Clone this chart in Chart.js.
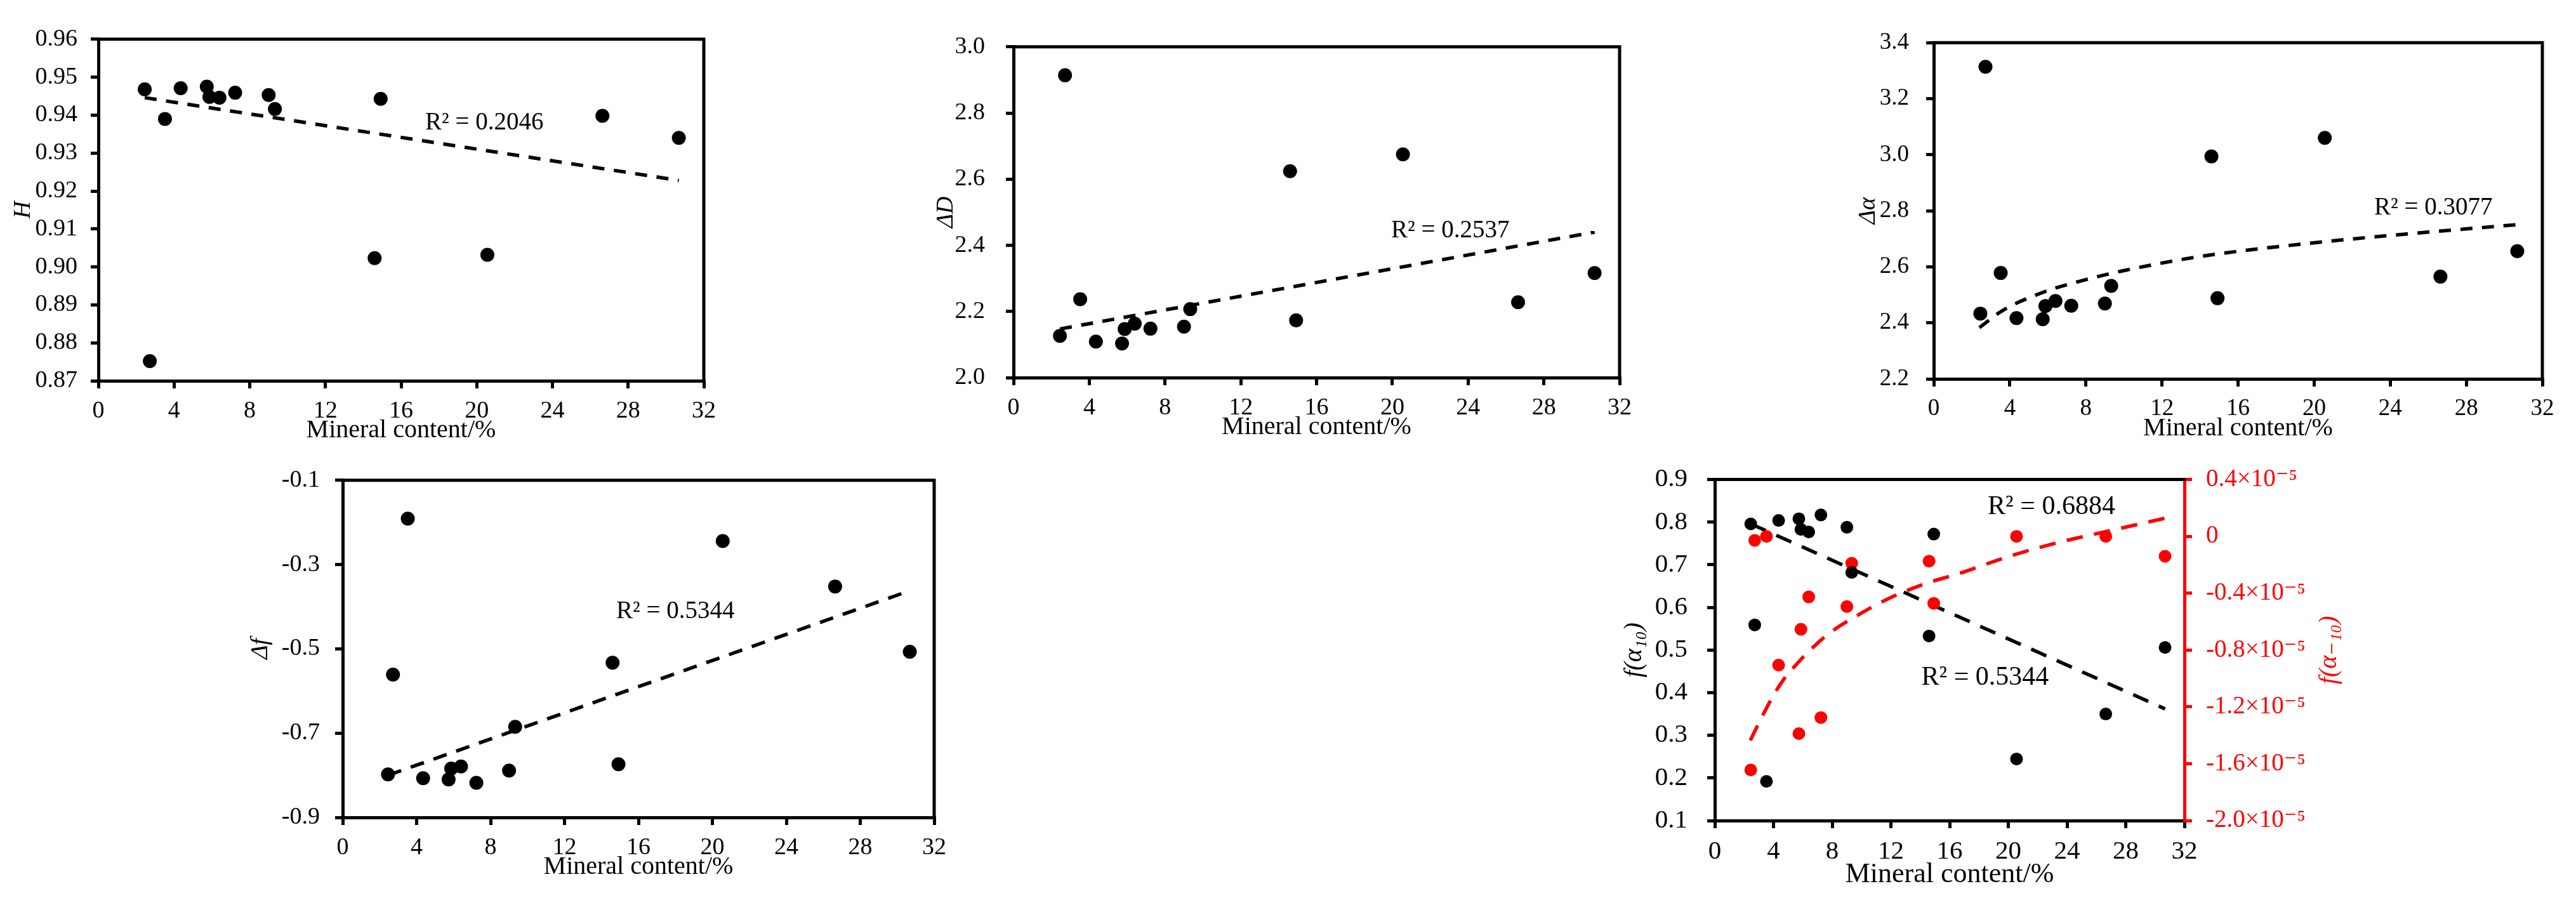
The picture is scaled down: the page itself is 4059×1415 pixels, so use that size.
<!DOCTYPE html>
<html>
<head>
<meta charset="utf-8">
<script src="https://cdn.jsdelivr.net/npm/chart.js@4.4.1/dist/chart.umd.min.js"></script>
<style>
  html, body { margin: 0; padding: 0; background: #fff; }
  body { width: 4059px; height: 1415px; position: relative; overflow: hidden; }
  .box { position: absolute; }
</style>
</head>
<body>
<div class="box" id="b1"><canvas id="c1"></canvas></div>
<div class="box" id="b2"><canvas id="c2"></canvas></div>
<div class="box" id="b3"><canvas id="c3"></canvas></div>
<div class="box" id="b4"><canvas id="c4"></canvas></div>
<div class="box" id="b5"><canvas id="c5"></canvas></div>
<script>
// mineral content (%) of the samples, shared by every panel
const mineral = [2.45, 2.72, 3.52, 4.35, 5.73, 5.87, 6.40, 7.23, 9.00, 9.33, 14.60, 14.92, 20.56, 26.64, 30.68];

// H
const hVals = [0.9468, 0.8752, 0.9390, 0.9471, 0.9475, 0.9448, 0.9446, 0.9459, 0.9453, 0.9416, 0.9023, 0.9443, 0.9032, 0.9398, 0.9340];
const hTrendX = [2.45, 30.68];
const hTrendY = [0.9446, 0.9228];

// ΔD
const dDVals = [2.126, 2.914, 2.237, 2.109, 2.103, 2.147, 2.163, 2.148, 2.154, 2.207, 2.624, 2.173, 2.675, 2.228, 2.316];
const dDTrendX = [2.45, 30.68];
const dDTrendY = [2.147, 2.440];

// Δα
const dAlphaVals = [2.433, 3.314, 2.578, 2.417, 2.413, 2.460, 2.478, 2.461, 2.469, 2.532, 2.994, 2.488, 3.060, 2.565, 2.656];
const dAlphaTrendX = [2.40, 3.62, 5.71, 7.93, 9.90, 13.84, 19.75, 24.68, 30.60];
const dAlphaTrendY = [2.383, 2.444, 2.508, 2.553, 2.585, 2.635, 2.684, 2.716, 2.750];

// Δf
const dfVals = [-0.798, -0.561, -0.191, -0.807, -0.810, -0.784, -0.779, -0.818, -0.789, -0.685, -0.533, -0.774, -0.244, -0.352, -0.507];
const dfTrendX = [2.45, 30.68];
const dfTrendY = [-0.800, -0.362];

// f(α10) (left axis) and f(α-10) (right axis, in units of 10^-5)
const fa10Vals = [0.796, 0.559, 0.192, 0.804, 0.808, 0.783, 0.777, 0.817, 0.788, 0.682, 0.533, 0.772, 0.2445, 0.350, 0.506];
const fa10TrendX = [2.45, 30.68];
const fa10TrendY = [0.796, 0.362];
const faNegVals = [-1.644, -0.028, 0.0, -0.906, -1.388, -0.654, -0.426, -1.275, -0.494, -0.189, -0.174, -0.471, 0.0, 0.0, -0.140];
const faNegTrendX = [2.42, 3.16, 3.99, 4.68, 5.64, 6.74, 7.84, 9.49, 11.70, 14.17, 16.65, 19.95, 23.25, 26.55, 30.68];
const faNegTrendY = [-1.436, -1.281, -1.120, -1.009, -0.892, -0.776, -0.679, -0.570, -0.445, -0.339, -0.261, -0.144, -0.047, 0.031, 0.128];

const r2Labels = ['R² = 0.2046', 'R² = 0.2537', 'R² = 0.3077', 'R² = 0.5344', 'R² = 0.6884', 'R² = 0.5344'];

const FONT = '"Liberation Serif", "Times New Roman", "DejaVu Serif", serif';
const RED = '#ff0000';

const pts = (xs, ys) => xs.map((x, i) => ({ x: x, y: ys[i] }));

// box around the plot area, R² notes, rotated right-hand title
const extras = {
  id: 'extras',
  afterDraw(chart, args, opts) {
    const { ctx, chartArea: a, scales } = chart;
    ctx.save();
    ctx.strokeStyle = '#000';
    ctx.lineWidth = 5;
    ctx.lineCap = 'square';
    ctx.beginPath();
    ctx.moveTo(a.left, a.top);
    ctx.lineTo(a.right, a.top);
    if (!opts.noRight) ctx.lineTo(a.right, a.bottom);
    ctx.stroke();

    ctx.textAlign = 'center';
    ctx.textBaseline = 'middle';
    (opts.notes || []).forEach(n => {
      ctx.fillStyle = '#000';
      ctx.font = (n.size || 39) + 'px ' + FONT;
      ctx.fillText(n.text, scales.x.getPixelForValue(n.x), scales.y.getPixelForValue(n.y));
    });

    if (opts.rightTitle) {
      const t = opts.rightTitle;
      ctx.fillStyle = t.color;
      ctx.font = 'italic ' + t.size + 'px ' + FONT;
      ctx.translate(scales.y2.left + t.offset, (a.top + a.bottom) / 2);
      ctx.rotate(-Math.PI / 2);
      ctx.fillText(t.text, 0, 0);
    }
    ctx.restore();
  }
};

function axisX(size, titleSize, h) {
  return {
    type: 'linear', position: 'bottom', min: 0, max: 32,
    ticks: { stepSize: 4, color: '#000', font: { family: FONT, size: size }, padding: 13, maxRotation: 0, autoSkip: false },
    grid: { drawOnChartArea: false, drawTicks: true, tickLength: 12, lineWidth: 5, color: '#000' },
    border: { display: true, width: 5, color: '#000' },
    title: { display: true, text: 'Mineral content/%', color: '#000', font: { family: FONT, size: titleSize }, padding: 0 },
    afterFit: s => { s.height = h; }
  };
}

function axisY(o) {
  const color = o.color || '#000';
  return {
    type: 'linear', position: o.position || 'left', min: o.min, max: o.max,
    ticks: {
      stepSize: o.step, color: color, font: { family: FONT, size: o.size }, padding: o.pad, autoSkip: false,
      callback: o.fmt || (v => v.toFixed(o.digits))
    },
    grid: { drawOnChartArea: false, drawTicks: true, tickLength: 12, lineWidth: 5, color: color },
    border: { display: true, width: 5, color: color },
    title: { display: !!o.title, text: o.title || '', color: color, font: { family: FONT, size: o.titleSize || 38, style: 'italic' }, padding: 0 },
    afterFit: s => { s.width = o.w; }
  };
}

function scatterSet(ys, color, r) {
  return {
    data: pts(mineral, ys), showLine: false, pointRadius: r, pointHoverRadius: r,
    pointBackgroundColor: color, pointBorderWidth: 0, borderColor: color, order: 1
  };
}

function trendSet(xs, ys, color, dash, axis) {
  const d = {
    data: pts(xs, ys), showLine: true, pointRadius: 0, borderColor: color, borderWidth: 5.5,
    borderDash: dash, cubicInterpolationMode: 'monotone', fill: false, order: 2
  };
  if (axis) d.yAxisID = axis;
  return d;
}

function place(id, left, top, w, h) {
  const b = document.getElementById(id);
  b.style.left = left + 'px';
  b.style.top = top + 'px';
  b.style.width = w + 'px';
  b.style.height = h + 'px';
}

function makeChart(canvasId, datasets, scales, extraOpts, padRight) {
  return new Chart(document.getElementById(canvasId), {
    type: 'scatter',
    data: { datasets: datasets },
    options: {
      animation: false, responsive: true, maintainAspectRatio: false, events: [],
      layout: { padding: { top: 30, right: padRight, bottom: 0, left: 0 } },
      plugins: { legend: { display: false }, tooltip: { enabled: false }, extras: extraOpts },
      scales: scales
    },
    plugins: [extras]
  });
}

// panel 1: H
place('b1', 14, 18, 1135, 684);
makeChart('c1',
  [scatterSet(hVals, '#000', 11), trendSet(hTrendX, hTrendY, '#000', [19, 15])],
  { x: axisX(38, 40, 102), y: axisY({ min: 0.87, max: 0.96, step: 0.01, digits: 2, size: 38, pad: 21, w: 141, title: 'H' }) },
  { notes: [{ x: 20.4, y: 0.938, text: r2Labels[0] }] }, 40);

// panel 2: ΔD
place('b2', 1468, 18, 1124, 679);
makeChart('c2',
  [scatterSet(dDVals, '#000', 11), trendSet(dDTrendX, dDTrendY, '#000', [19, 15])],
  { x: axisX(38, 40, 102), y: axisY({ min: 2.0, max: 3.0, step: 0.2, digits: 1, size: 38, pad: 33, w: 129, title: 'ΔD' }) },
  { notes: [{ x: 23.06, y: 2.444, text: r2Labels[1] }] }, 40);

// panel 3: Δα
place('b3', 2921, 18, 1125, 681);
makeChart('c3',
  [scatterSet(dAlphaVals, '#000', 11), trendSet(dAlphaTrendX, dAlphaTrendY, '#000', [19, 15])],
  { x: axisX(37, 40, 102), y: axisY({ min: 2.2, max: 3.4, step: 0.2, digits: 1, size: 37, pad: 27, w: 126, title: 'Δα' }) },
  { notes: [{ x: 26.27, y: 2.81, text: r2Labels[2] }] }, 40);

// panel 4: Δf
place('b4', 388, 710, 1124, 680);
makeChart('c4',
  [scatterSet(dfVals, '#000', 11), trendSet(dfTrendX, dfTrendY, '#000', [22, 16])],
  { x: axisX(38, 40, 102), y: axisY({ min: -0.9, max: -0.1, step: 0.2, digits: 1, size: 38, pad: 24, w: 152, title: 'Δf' }) },
  { notes: [{ x: 18.0, y: -0.412, text: r2Labels[3] }] }, 40);

// panel 5: f(α10) and f(α-10)
const negFmt = v => {
  const r = Math.round(v * 10) / 10;
  if (Math.abs(r) < 1e-9) return '0';
  return r.toFixed(1) + '×10⁻⁵';
};
place('b5', 2551, 700, 1169, 705);
makeChart('c5',
  [
    scatterSet(fa10Vals, '#000', 10),
    Object.assign(scatterSet(faNegVals, RED, 10), { yAxisID: 'y2' }),
    trendSet(fa10TrendX, fa10TrendY, '#000', [26, 18]),
    trendSet(faNegTrendX, faNegTrendY, RED, [26, 18], 'y2')
  ],
  {
    x: axisX(41, 44, 112),
    y: axisY({ min: 0.1, max: 0.9, step: 0.1, digits: 1, size: 41, pad: 31, w: 151, title: 'f(α₁₀)', titleSize: 40 }),
    y2: axisY({ min: -2.0, max: 0.4, step: 0.4, size: 39, pad: 22, w: 278, position: 'right', color: RED, fmt: negFmt })
  },
  {
    noRight: true,
    notes: [{ x: 22.94, y: 0.835, text: r2Labels[4], size: 42 }, { x: 18.42, y: 0.4355, text: r2Labels[5], size: 42 }],
    rightTitle: { text: 'f(α₋₁₀)', color: RED, size: 40, offset: 228 }
  }, 0);
</script>
</body>
</html>
